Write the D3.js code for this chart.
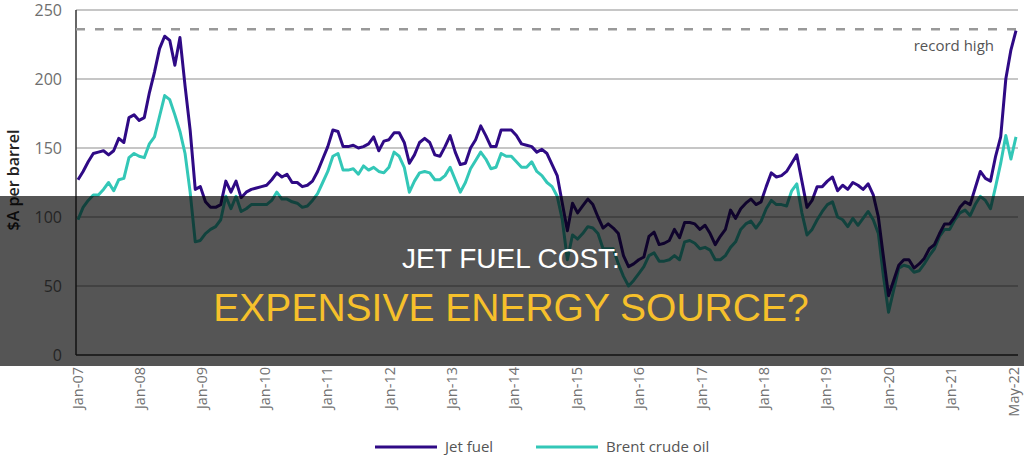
<!DOCTYPE html>
<html>
<head>
<meta charset="utf-8">
<script src="https://cdn.jsdelivr.net/npm/d3@7"></script>
<style>
  html, body { margin: 0; padding: 0; background: #fff; }
  svg { display: block; }
</style>
</head>
<body>
<div id="chart"></div>
<script>
// monthly values, Jan-07 .. May-22 ($A per barrel)
const jetFuel = [
  127,133,140,146,147,148,145,148,157,154,172,174,170,172,190,205,222,231,228,210,
  230,195,163,120,122,111,107,107,109,126,118,126,114,118,120,121,122,123,127,132,
  129,131,125,125,122,123,126,133,142,151,163,162,151,151,152,150,151,153,158,148,
  155,156,161,161,154,139,145,154,157,154,145,144,151,159,147,138,139,150,156,166,
  159,151,151,163,163,163,159,153,152,151,147,149,146,138,130,110,90,110,103,108,
  113,109,100,92,95,92,88,72,64,66,69,71,86,89,80,81,83,91,85,96,
  96,95,91,94,88,80,86,91,105,99,106,110,113,109,111,122,132,129,130,133,
  139,145,126,107,112,122,122,126,129,119,123,120,125,123,120,124,116,100,71,43,
  54,65,69,69,63,66,70,77,80,88,95,95,100,107,111,109,121,133,128,126,
  144,158,200,221,235
];
const brentCrude = [
  98,107,112,116,116,120,125,119,127,128,143,146,144,143,153,158,173,188,185,174,
  162,146,118,82,83,88,91,93,98,115,106,115,104,106,109,109,109,109,112,118,
  113,113,111,110,107,108,112,117,125,133,144,146,134,134,135,131,137,134,136,133,
  132,136,147,144,136,118,126,132,133,132,127,127,130,136,127,118,125,135,141,147,
  142,135,136,146,144,144,140,136,136,140,133,130,125,122,115,98,69,87,84,88,
  93,92,88,77,77,77,66,57,50,54,59,64,72,74,68,68,69,72,69,82,
  83,81,77,78,76,69,69,72,78,82,91,95,97,92,97,106,112,109,109,108,
  119,124,103,87,91,98,104,109,111,100,98,93,99,94,99,104,98,88,57,31,
  47,63,65,64,60,61,66,72,77,86,91,91,98,103,105,101,109,115,112,106,
  122,139,159,142,158
];
const xTickLabels = ["Jan-07","Jan-08","Jan-09","Jan-10","Jan-11","Jan-12","Jan-13","Jan-14",
  "Jan-15","Jan-16","Jan-17","Jan-18","Jan-19","Jan-20","Jan-21","May-22"];
const yTicks = [0, 50, 100, 150, 200, 250];
const recordHigh = 236;
const seriesNames = ["Jet fuel", "Brent crude oil"];
const seriesColors = ["#2f0a85", "#33c7b7"];

const W = 1024, H = 455;
const plot = {left: 76, right: 1018, top: 10, bottom: 355};

const svg = d3.select("#chart").append("svg")
  .attr("width", W).attr("height", H)
  .style("font-family", "'Open Sans', sans-serif");

const x = d3.scaleLinear().domain([0, jetFuel.length - 1]).range([78, 1016]);
const y = d3.scaleLinear().domain([0, 250]).range([plot.bottom, plot.top]);
const xLab = d3.scalePoint().domain(xTickLabels).range([77, 1013]);

// gridlines
svg.append("g")
  .selectAll("line")
  .data(yTicks.filter(d => d > 0))
  .join("line")
  .attr("x1", plot.left).attr("x2", plot.right)
  .attr("y1", d => y(d)).attr("y2", d => y(d))
  .attr("stroke", "#b3b3b3").attr("stroke-width", 1.5);

// y axis labels
const yAxis = svg.append("g")
  .attr("transform", "translate(" + plot.left + ",0)")
  .call(d3.axisLeft(y).tickValues(yTicks).tickSize(0).tickPadding(14));
yAxis.select(".domain").remove();
yAxis.selectAll("text")
  .attr("fill", "#6e6e6e")
  .style("font-size", "16px")
  .style("font-family", "'Open Sans', sans-serif");

// axis lines
svg.append("line")
  .attr("x1", plot.left).attr("x2", plot.left)
  .attr("y1", plot.top).attr("y2", plot.bottom)
  .attr("stroke", "#333").attr("stroke-width", 1.5);
svg.append("line")
  .attr("x1", plot.left).attr("x2", plot.right)
  .attr("y1", plot.bottom).attr("y2", plot.bottom)
  .attr("stroke", "#333").attr("stroke-width", 1.5);

// x labels
const xAxis = svg.append("g")
  .attr("transform", "translate(0," + plot.bottom + ")")
  .call(d3.axisBottom(xLab).tickSize(0).tickPadding(0));
xAxis.select(".domain").remove();
xAxis.selectAll("text")
  .attr("transform", "rotate(-90)")
  .attr("x", -12).attr("y", 0).attr("dy", "0.35em")
  .style("text-anchor", "end")
  .attr("fill", "#707070")
  .style("font-size", "14.5px")
  .style("font-family", "'Open Sans', sans-serif");

// y title
svg.append("text")
  .attr("transform", "translate(13,180) rotate(-90)")
  .attr("text-anchor", "middle")
  .attr("dy", "0.35em")
  .attr("fill", "#222")
  .style("font-size", "16px")
  .style("font-weight", 600)
  .text("$A per barrel");

// record high
svg.append("line")
  .attr("x1", plot.left).attr("x2", plot.right)
  .attr("y1", y(recordHigh)).attr("y2", y(recordHigh))
  .attr("stroke", "#999").attr("stroke-width", 2.5)
  .attr("stroke-dasharray", "9,10");
svg.append("text")
  .attr("x", 994).attr("y", y(recordHigh) + 22)
  .attr("text-anchor", "end")
  .attr("fill", "#555")
  .style("font-size", "15px")
  .text("record high");

// lines
const line = d3.line().x((d, i) => x(i)).y(d => y(d));
[brentCrude, jetFuel].forEach((s, k) => {
  svg.append("path")
    .datum(s)
    .attr("d", line)
    .attr("fill", "none")
    .attr("stroke", k === 0 ? seriesColors[1] : seriesColors[0])
    .attr("stroke-width", 3)
    .attr("stroke-linejoin", "round");
});

// legend
const legendX = [375, 536];
seriesNames.forEach((name, i) => {
  const g = svg.append("g").attr("transform", "translate(" + legendX[i] + ",447)");
  g.append("line").attr("x1", 0).attr("x2", 62)
    .attr("stroke", seriesColors[i]).attr("stroke-width", 3);
  g.append("text").attr("x", 70).attr("dy", "0.35em")
    .attr("fill", "#555").style("font-size", "15px").text(name);
});

// title banner over the chart
svg.append("rect")
  .attr("x", 0).attr("y", 196).attr("width", W).attr("height", 170)
  .attr("fill", "rgba(0,0,0,0.667)");
svg.append("text")
  .attr("x", 511).attr("y", 268)
  .attr("text-anchor", "middle")
  .attr("fill", "#fff")
  .style("font-family", "'Liberation Sans', Arial, sans-serif")
  .style("font-size", "28px")
  .text("JET FUEL COST:");
svg.append("text")
  .attr("x", 511).attr("y", 321)
  .attr("text-anchor", "middle")
  .attr("fill", "#f6c02b")
  .style("font-family", "'Liberation Sans', Arial, sans-serif")
  .style("font-size", "39px")
  .text("EXPENSIVE ENERGY SOURCE?");
</script>
</body>
</html>
